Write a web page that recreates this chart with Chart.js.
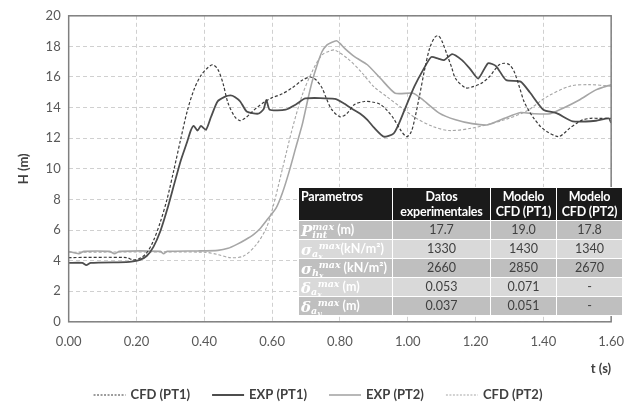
<!DOCTYPE html>
<html>
<head>
<meta charset="utf-8">
<script src="https://cdn.jsdelivr.net/npm/chart.js@4.4.1/dist/chart.umd.min.js"></script>
<style>
  body { margin: 0; background: #fff; }
  #wrap { position: relative; width: 636px; height: 404px; }
  #tbl {
    position: absolute; left: 298px; top: 187px; border-collapse: collapse; table-layout: fixed; width: 324px;
    font-family: Lato, "Open Sans", sans-serif; font-size: 12.5px; color: #404040;
  }
  #tbl td, #tbl th { border: 1px solid #fff; padding: 0 2px; text-align: center; height: 18px; line-height: 18px; white-space: nowrap; overflow: hidden; }
  #tbl th { background: #1a1a1a; color: #fff; font-weight: bold; height: 31px; line-height: 15px; letter-spacing: -0.2px; }
  #tbl td.p { background: #1a1a1a; color: #fff; text-align: left; font-weight: bold; }
  #tbl tr.d td { background: #bfbfbf; }
  #tbl tr.l td { background: #d9d9d9; }
  .m { font-family: "DejaVu Serif", serif; font-style: italic; font-weight: bold; font-size: 15px; line-height: 14px; display: inline-block; vertical-align: middle; }
  .ss { display: inline-block; vertical-align: middle; line-height: 8px; font-size: 9.5px; font-family: "DejaVu Serif", serif; font-style: italic; font-weight: bold; text-align: left; }
  .ss sub { font-size: 7.5px; line-height: 0; vertical-align: -2px; }
</style>
</head>
<body>
<div id="wrap">
  <canvas id="myChart" width="636" height="404"></canvas>
  <table id="tbl">
    <colgroup><col style="width:94px"><col style="width:98px"><col style="width:66px"><col style="width:66px"></colgroup>
    <tr>
      <th style="text-align:left;vertical-align:top;padding-top:1px">Parametros</th>
      <th>Datos<br>experimentales</th>
      <th>Modelo<br>CFD (PT1)</th>
      <th>Modelo<br>CFD (PT2)</th>
    </tr>
    <tr class="d"><td class="p"><span class="m">P</span><span class="ss">max<br>int</span> (m)</td><td>17.7</td><td>19.0</td><td>17.8</td></tr>
    <tr class="l"><td class="p"><span class="m">σ</span><span class="ss">&nbsp;&nbsp;max<br>a<sub>x</sub></span>(kN/m²)</td><td>1330</td><td>1430</td><td>1340</td></tr>
    <tr class="d"><td class="p"><span class="m">σ</span><span class="ss">&nbsp;&nbsp;max<br>h<sub>x</sub></span> (kN/m²)</td><td>2660</td><td>2850</td><td>2670</td></tr>
    <tr class="l"><td class="p"><span class="m">δ</span><span class="ss">&nbsp;&nbsp;max<br>a<sub>x</sub></span> (m)</td><td>0.053</td><td>0.071</td><td>-</td></tr>
    <tr class="d"><td class="p"><span class="m">δ</span><span class="ss">&nbsp;&nbsp;max<br>a<sub>y</sub></span> (m)</td><td>0.037</td><td>0.051</td><td>-</td></tr>
  </table>
</div>
<script>
// values (t in s, H in m)
const seriesNames = ['CFD (PT1)', 'EXP (PT1)', 'EXP (PT2)', 'CFD (PT2)'];

const tCfd1 = [0, 0.17, 0.19, 0.21, 0.23, 0.25, 0.27, 0.29, 0.31, 0.33, 0.35, 0.37, 0.39, 0.41, 0.425, 0.44, 0.455, 0.47, 0.49, 0.505, 0.52, 0.54, 0.555, 0.58, 0.60, 0.63, 0.66, 0.69, 0.713, 0.73, 0.747, 0.76, 0.775, 0.80, 0.82, 0.843, 0.872, 0.90, 0.92, 0.94, 0.958, 0.98, 0.997, 1.01, 1.02, 1.035, 1.05, 1.065, 1.08, 1.09, 1.10, 1.117, 1.13, 1.141, 1.17, 1.19, 1.218, 1.24, 1.256, 1.27, 1.285, 1.30, 1.314, 1.33, 1.343, 1.36, 1.372, 1.39, 1.41, 1.444, 1.46, 1.478, 1.50, 1.516, 1.54, 1.564, 1.60];
const hCfd1 = [4.2, 4.2, 4.05, 4.15, 4.5, 5.3, 6.5, 8.0, 9.9, 11.9, 13.8, 15.2, 16.1, 16.6, 16.8, 16.5, 15.6, 14.3, 13.4, 13.15, 13.3, 13.7, 14.0, 14.4, 14.65, 14.9, 15.3, 15.8, 16.0, 15.8, 15.3, 14.6, 13.9, 13.4, 13.6, 14.2, 14.4, 14.35, 14.2, 13.8, 13.3, 12.5, 12.1, 12.4, 13.2, 14.8, 16.5, 17.9, 18.6, 18.7, 18.4, 17.4, 16.6, 15.9, 15.3, 15.35, 15.6, 16.0, 16.45, 16.8, 16.9, 16.8, 16.35, 15.3, 14.4, 13.7, 13.3, 12.8, 12.44, 12.1, 12.3, 12.66, 13.0, 13.2, 13.3, 13.3, 13.3];

const tExp1 = [0, 0.04, 0.052, 0.065, 0.17, 0.19, 0.21, 0.23, 0.25, 0.27, 0.29, 0.31, 0.33, 0.35, 0.36, 0.369, 0.38, 0.39, 0.405, 0.42, 0.439, 0.46, 0.477, 0.49, 0.506, 0.525, 0.559, 0.575, 0.583, 0.593, 0.64, 0.67, 0.698, 0.785, 0.81, 0.833, 0.86, 0.881, 0.90, 0.929, 0.958, 0.975, 0.997, 1.02, 1.045, 1.069, 1.09, 1.107, 1.131, 1.16, 1.185, 1.208, 1.237, 1.261, 1.29, 1.333, 1.36, 1.40, 1.439, 1.487, 1.555, 1.593, 1.60];
const hExp1 = [3.85, 3.85, 3.7, 3.85, 3.9, 3.95, 4.05, 4.3, 4.9, 5.9, 7.3, 8.9, 10.5, 11.8, 12.5, 12.8, 12.5, 12.8, 12.55, 13.4, 14.4, 14.7, 14.8, 14.7, 14.4, 13.75, 13.6, 13.9, 14.5, 13.86, 13.86, 14.2, 14.6, 14.57, 14.3, 13.96, 13.6, 13.2, 12.7, 12.1, 12.3, 13.0, 14.2, 15.4, 16.45, 17.3, 17.2, 17.1, 17.5, 17.1, 16.5, 15.9, 16.9, 16.7, 15.8, 15.7, 15.0, 13.86, 13.64, 13.1, 13.14, 13.3, 13.0];

const tExp2 = [0, 0.03, 0.045, 0.12, 0.135, 0.15, 0.27, 0.28, 0.29, 0.38, 0.44, 0.47, 0.496, 0.52, 0.545, 0.565, 0.583, 0.612, 0.63, 0.65, 0.67, 0.689, 0.705, 0.718, 0.733, 0.747, 0.762, 0.775, 0.79, 0.80, 0.814, 0.843, 0.881, 0.92, 0.963, 1.016, 1.045, 1.093, 1.141, 1.19, 1.237, 1.285, 1.333, 1.372, 1.42, 1.458, 1.506, 1.555, 1.60];
const hExp2 = [4.6, 4.45, 4.6, 4.6, 4.45, 4.6, 4.6, 4.45, 4.6, 4.63, 4.67, 4.8, 5.06, 5.35, 5.7, 6.1, 6.6, 7.45, 8.4, 9.8, 11.4, 12.9, 14.5, 15.7, 16.8, 17.65, 18.1, 18.26, 18.37, 18.2, 17.87, 17.33, 16.8, 15.9, 14.94, 14.94, 14.5, 13.64, 13.2, 12.95, 12.88, 13.3, 13.68, 13.6, 13.6, 13.96, 14.5, 15.16, 15.5];

const tCfd2 = [0, 0.40, 0.439, 0.477, 0.516, 0.554, 0.583, 0.602, 0.631, 0.66, 0.689, 0.718, 0.747, 0.77, 0.785, 0.823, 0.862, 0.9, 0.939, 0.977, 1.025, 1.074, 1.122, 1.19, 1.285, 1.352, 1.41, 1.478, 1.535, 1.60];
const hCfd2 = [4.55, 4.55, 4.4, 4.19, 4.3, 5.06, 6.14, 7.45, 10.05, 12.66, 14.83, 16.35, 17.44, 17.7, 17.76, 17.2, 16.35, 15.37, 14.7, 14.07, 13.3, 12.77, 12.5, 12.66, 13.2, 13.8, 14.7, 15.4, 15.5, 15.4];

const xTicks = [0, 0.2, 0.4, 0.6, 0.8, 1.0, 1.2, 1.4, 1.6];

function pts(t, h) {
    return t.map((v, i) => ({ x: v, y: h[i] }));
}

// box round the plot area
const frame = {
    id: 'frame',
    afterDraw(chart) {
        const a = chart.chartArea, c = chart.ctx;
        c.save();
        c.strokeStyle = '#7f7f7f';
        c.lineWidth = 1.5;
        c.strokeRect(a.left, a.top, a.right - a.left, a.bottom - a.top);
        c.restore();
    }
};

// legend drawn by hand so the dashes show like the original
const bottomLegend = {
    id: 'bottomLegend',
    afterDraw(chart) {
        const c = chart.ctx;
        const sets = chart.data.datasets;
        const y = 395;
        const lineW = 32, gap = 5, spacing = 22;
        c.save();
        c.font = 'bold 13px Lato';
        let total = 0;
        sets.forEach(ds => { total += lineW + gap + c.measureText(ds.label).width; });
        total += spacing * (sets.length - 1);
        let x = (chart.width - total) / 2;
        sets.forEach(ds => {
            c.strokeStyle = ds.borderColor;
            c.lineWidth = ds.borderWidth;
            c.setLineDash(ds.borderDash ? [2, 1.5] : []);
            c.beginPath();
            c.moveTo(x, y);
            c.lineTo(x + lineW, y);
            c.stroke();
            c.setLineDash([]);
            c.fillStyle = '#404040';
            c.textBaseline = 'middle';
            c.fillText(ds.label, x + lineW + gap, y);
            x += lineW + gap + c.measureText(ds.label).width + spacing;
        });
        c.restore();
    }
};

const ctx = document.getElementById('myChart').getContext('2d');
const chart = new Chart(ctx, {
    type: 'scatter',
    data: {
        datasets: [
            { label: seriesNames[0], data: pts(tCfd1, hCfd1), showLine: true, borderColor: '#3a3a3a', borderWidth: 1.2, borderDash: [3, 2], pointRadius: 0, tension: 0.3 },
            { label: seriesNames[1], data: pts(tExp1, hExp1), showLine: true, borderColor: '#4d4d4d', borderWidth: 1.8, pointRadius: 0, tension: 0.2 },
            { label: seriesNames[2], data: pts(tExp2, hExp2), showLine: true, borderColor: '#a6a6a6', borderWidth: 1.6, pointRadius: 0, tension: 0.2 },
            { label: seriesNames[3], data: pts(tCfd2, hCfd2), showLine: true, borderColor: '#a6a6a6', borderWidth: 1.1, borderDash: [3, 2], pointRadius: 0, tension: 0.3 }
        ]
    },
    options: {
        responsive: false,
        animation: false,
        layout: { padding: { left: 12, right: 13, top: 6, bottom: 27 } },
        plugins: {
            tooltip: { enabled: false },
            legend: { display: false }
        },
        scales: {
            x: {
                type: 'linear',
                min: 0, max: 1.6,
                afterBuildTicks: axis => { axis.ticks = xTicks.map(v => ({ value: v })); },
                ticks: { color: '#595959', font: { family: 'Lato', size: 13 }, callback: v => v.toFixed(2), padding: 12 },
                grid: { color: '#d0d0d0', tickLength: 0 },
                border: { display: false, dash: [4, 3] },
                title: { display: true, text: 't (s)', align: 'end', color: '#404040', font: { family: 'Lato', size: 13, weight: 'bold' }, padding: { top: 0, bottom: 0 } }
            },
            y: {
                min: 0, max: 20,
                ticks: { stepSize: 2, color: '#595959', font: { family: 'Lato', size: 13 }, padding: 8 },
                grid: { color: '#d0d0d0', tickLength: 0 },
                border: { display: false, dash: [4, 3] },
                title: { display: true, text: 'H (m)', color: '#404040', font: { family: 'Lato', size: 13, weight: 'bold' }, padding: { bottom: 6 } }
            }
        }
    },
    plugins: [frame, bottomLegend]
});
</script>
</body>
</html>
